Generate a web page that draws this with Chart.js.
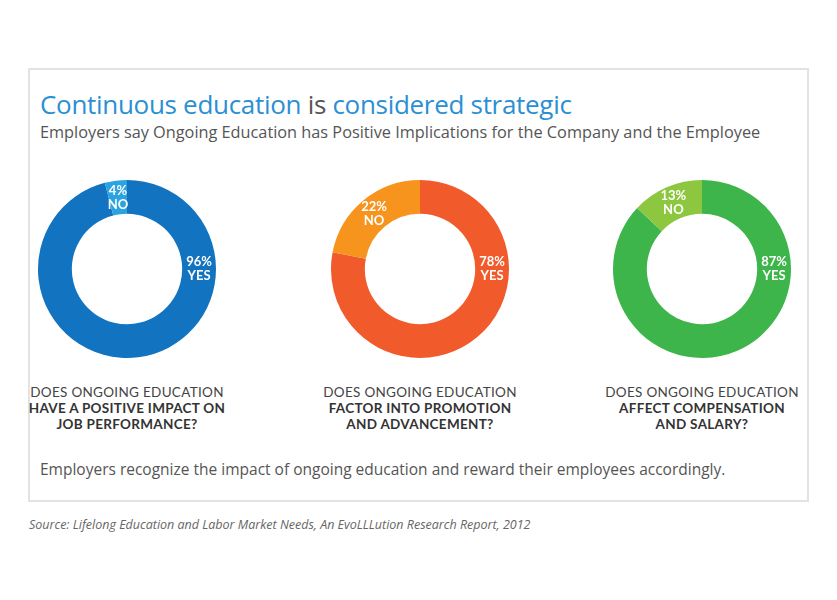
<!DOCTYPE html><html><head><meta charset="utf-8">
<script src="https://cdn.jsdelivr.net/npm/chart.js@4/dist/chart.umd.min.js"></script>
<style>
body{margin:0;background:#fff;width:837px;height:600px;position:relative;font-family:"Open Sans",sans-serif;overflow:hidden}
.frame{position:absolute;left:28px;top:68px;width:781px;height:434px;border:2px solid #e3e3e3;box-sizing:border-box}
.t{position:absolute;left:40px;top:86px;font-size:26px;color:#2b8fd3;white-space:nowrap;letter-spacing:-0.3px}
.t span{color:#555}
.s{position:absolute;left:40px;top:121px;font-size:16.3px;color:#555;white-space:nowrap}
.c{position:absolute;top:179px;width:180px;height:180px}
.c canvas{width:180px!important;height:180px!important}
.q{position:absolute;top:384px;width:260px;text-align:center;font-family:Lato,sans-serif;font-size:13.5px;color:#444;line-height:16px;letter-spacing:0.3px}
.q b{color:#333}
.f{position:absolute;left:40px;top:458px;font-size:15.5px;color:#555;white-space:nowrap}
.src{position:absolute;left:29px;top:516px;font-size:12.5px;color:#666;font-style:italic;white-space:nowrap}
</style></head><body>
<div class="frame"></div>
<div class="t">Continuous education <span>is</span> considered strategic</div>
<div class="s">Employers say Ongoing Education has Positive Implications for the Company and the Employee</div>
<div class="c" style="left:37px"><canvas id="c0" width="180" height="180"></canvas></div>
<div class="c" style="left:330px"><canvas id="c1" width="180" height="180"></canvas></div>
<div class="c" style="left:612px"><canvas id="c2" width="180" height="180"></canvas></div>
<div class="q" style="left:-3px">DOES ONGOING EDUCATION<br><b>HAVE A POSITIVE IMPACT ON<br>JOB PERFORMANCE?</b></div>
<div class="q" style="left:290px">DOES ONGOING EDUCATION<br><b>FACTOR INTO PROMOTION<br>AND ADVANCEMENT?</b></div>
<div class="q" style="left:572px">DOES ONGOING EDUCATION<br><b>AFFECT COMPENSATION<br>AND SALARY?</b></div>
<div class="f">Employers recognize the impact of ongoing education and reward their employees accordingly.</div>
<div class="src">Source: Lifelong Education and Labor Market Needs, An EvoLLLution Research Report, 2012</div>
<script>
const categories=["YES","NO"];
const yesValues=[96,78,87];
const noValues=[4,22,13];
const palettes=[["#1273c0","#2aa3e0"],["#f15a2b","#f7941d"],["#3db54a","#8dc63f"]];
const labelPlugin={id:'lbl',afterDatasetsDraw(ch){
  const ctx=ch.ctx;const meta=ch.getDatasetMeta(0);const d=ch.data.datasets[0].data;
  meta.data.forEach((arc,i)=>{
    const p=arc.getProps(['x','y','startAngle','endAngle','innerRadius','outerRadius']);
    const r=(p.innerRadius+p.outerRadius)/2;
    const a=i===0?0:(p.startAngle+p.endAngle)/2;
    const x=p.x+Math.cos(a)*r,y=p.y+Math.sin(a)*r;
    ctx.save();ctx.fillStyle='#fff';ctx.textAlign='center';ctx.textBaseline='middle';
    ctx.font='bold 13px Lato, sans-serif';
    ctx.fillText(d[i]+'%',x,y-7);ctx.fillText(categories[i],x,y+7);ctx.restore();
  });}};
yesValues.forEach((v,k)=>{
  new Chart(document.getElementById('c'+k),{type:'doughnut',
    data:{labels:categories,datasets:[{data:[v,noValues[k]],backgroundColor:palettes[k],borderWidth:0}]},
    options:{responsive:false,animation:false,devicePixelRatio:1,cutout:'62%',layout:{padding:1},
      plugins:{legend:{display:false},tooltip:{enabled:false}}},
    plugins:[labelPlugin]});
});
</script>
</body></html>
